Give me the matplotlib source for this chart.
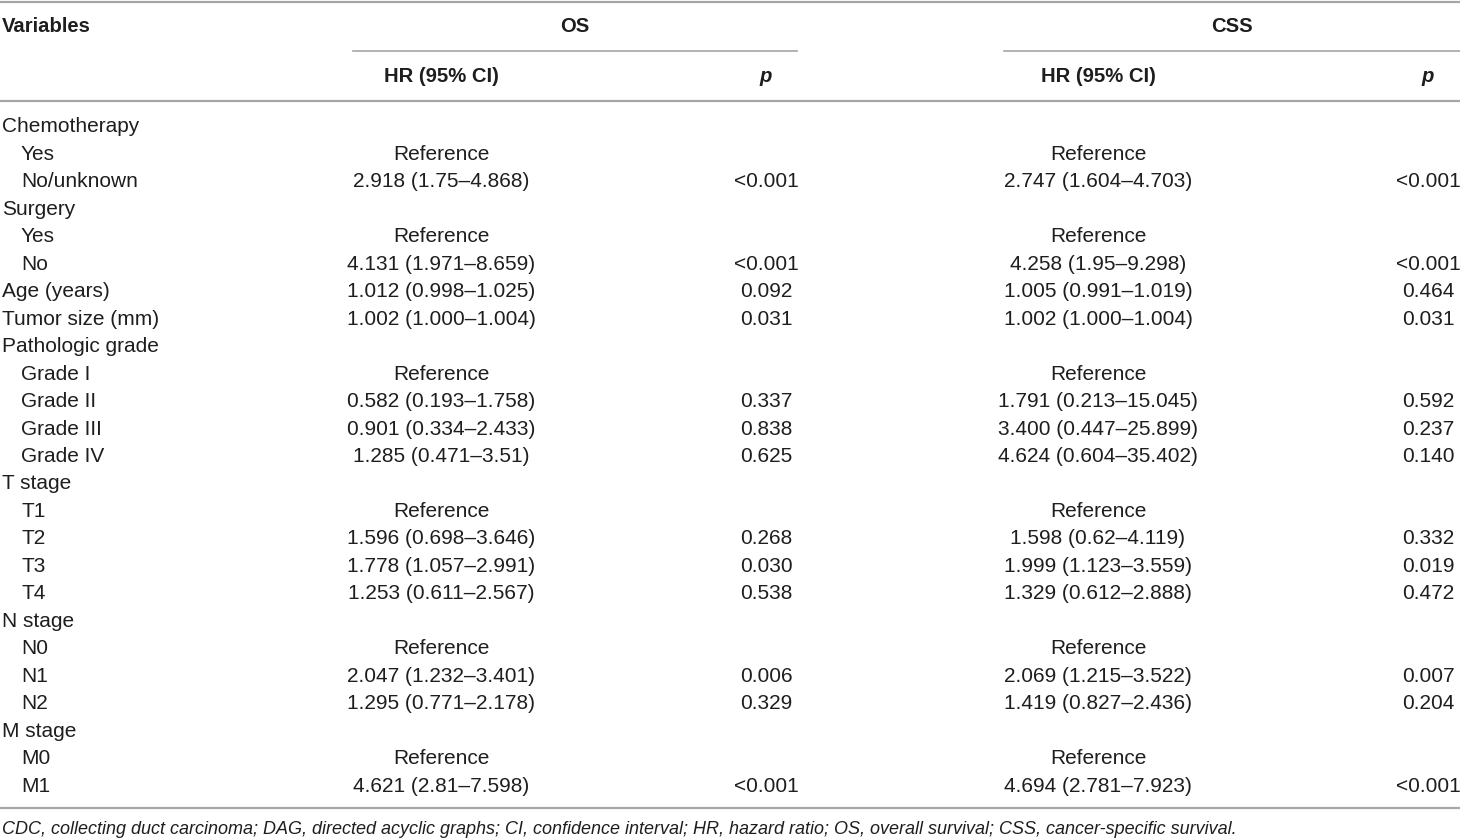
import matplotlib
matplotlib.use("Agg")
import matplotlib.pyplot as plt

# ---- data ----
variables = ["Chemotherapy", "Yes", "No/unknown", "Surgery", "Yes", "No",
             "Age (years)", "Tumor size (mm)", "Pathologic grade", "Grade I",
             "Grade II", "Grade III", "Grade IV", "T stage", "T1", "T2", "T3",
             "T4", "N stage", "N0", "N1", "N2", "M stage", "M0", "M1"]
indent = [0, 1, 1, 0, 1, 1, 0, 0, 0, 1, 1, 1, 1, 0, 1, 1, 1, 1, 0, 1, 1, 1, 0, 1, 1]
os_hr = ["", "Reference", "2.918 (1.75–4.868)", "", "Reference", "4.131 (1.971–8.659)",
         "1.012 (0.998–1.025)", "1.002 (1.000–1.004)", "", "Reference",
         "0.582 (0.193–1.758)", "0.901 (0.334–2.433)", "1.285 (0.471–3.51)", "",
         "Reference", "1.596 (0.698–3.646)", "1.778 (1.057–2.991)", "1.253 (0.611–2.567)",
         "", "Reference", "2.047 (1.232–3.401)", "1.295 (0.771–2.178)", "",
         "Reference", "4.621 (2.81–7.598)"]
os_p = ["", "", "<0.001", "", "", "<0.001", "0.092", "0.031", "", "", "0.337", "0.838",
        "0.625", "", "", "0.268", "0.030", "0.538", "", "", "0.006", "0.329", "", "",
        "<0.001"]
css_hr = ["", "Reference", "2.747 (1.604–4.703)", "", "Reference", "4.258 (1.95–9.298)",
          "1.005 (0.991–1.019)", "1.002 (1.000–1.004)", "", "Reference",
          "1.791 (0.213–15.045)", "3.400 (0.447–25.899)", "4.624 (0.604–35.402)", "",
          "Reference", "1.598 (0.62–4.119)", "1.999 (1.123–3.559)", "1.329 (0.612–2.888)",
          "", "Reference", "2.069 (1.215–3.522)", "1.419 (0.827–2.436)", "",
          "Reference", "4.694 (2.781–7.923)"]
css_p = ["", "", "<0.001", "", "", "<0.001", "0.464", "0.031", "", "", "0.592", "0.237",
         "0.140", "", "", "0.332", "0.019", "0.472", "", "", "0.007", "0.204", "", "",
         "<0.001"]
group_headers = ["OS", "CSS"]
sub_headers = ["HR (95% CI)", "p"]
footnote = ("CDC, collecting duct carcinoma; DAG, directed acyclic graphs; CI, confidence "
            "interval; HR, hazard ratio; OS, overall survival; CSS, cancer-specific survival.")

# ---- style ----
plt.rcParams["font.family"] = ["Liberation Sans", "DejaVu Sans"]
txt = "#1e1e1e"
line_c = "#a6a6a6"
fs = 15
fsb = 14.6

fig = plt.figure(figsize=(14.6, 8.4), dpi=100)
ax = fig.add_axes([0, 0, 1, 1])
ax.set_xlim(0, 1460)
ax.set_ylim(840, 0)
ax.axis("off")

# rules
ax.plot([0, 1460], [2, 2], color=line_c, lw=1.6)
ax.plot([353, 797], [51, 51], color=line_c, lw=1.2)
ax.plot([1004, 1460], [51, 51], color=line_c, lw=1.2)
ax.plot([0, 1460], [101, 101], color=line_c, lw=1.6)
ax.plot([0, 1460], [808, 808], color=line_c, lw=1.6)

# headers
ax.text(2, 27, "Variables", fontsize=fsb, fontweight="bold", color=txt, ha="left", va="center")
ax.text(575, 27, group_headers[0], fontsize=fsb, fontweight="bold", color=txt, ha="center", va="center")
ax.text(1232, 27, group_headers[1], fontsize=fsb, fontweight="bold", color=txt, ha="center", va="center")
ax.text(441, 76, sub_headers[0], fontsize=fsb, fontweight="bold", color=txt, ha="center", va="center")
ax.text(766, 76, sub_headers[1], fontsize=fsb, fontweight="bold", style="italic", color=txt, ha="center", va="center")
ax.text(1098, 76, sub_headers[0], fontsize=fsb, fontweight="bold", color=txt, ha="center", va="center")
ax.text(1428, 76, sub_headers[1], fontsize=fsb, fontweight="bold", style="italic", color=txt, ha="center", va="center")

# body
y0, dy = 127, 27.46
for i, name in enumerate(variables):
    y = y0 + i * dy
    ax.text(2 + 19 * indent[i], y, name, fontsize=fs, color=txt, ha="left", va="center")
    ax.text(441, y, os_hr[i], fontsize=fs, color=txt, ha="center", va="center")
    ax.text(766, y, os_p[i], fontsize=fs, color=txt, ha="center", va="center")
    ax.text(1098, y, css_hr[i], fontsize=fs, color=txt, ha="center", va="center")
    ax.text(1428, y, css_p[i], fontsize=fs, color=txt, ha="center", va="center")

ax.text(2, 829, footnote, fontsize=13, style="italic", color=txt, ha="left", va="center")

fig.savefig("out.png", dpi=100)
